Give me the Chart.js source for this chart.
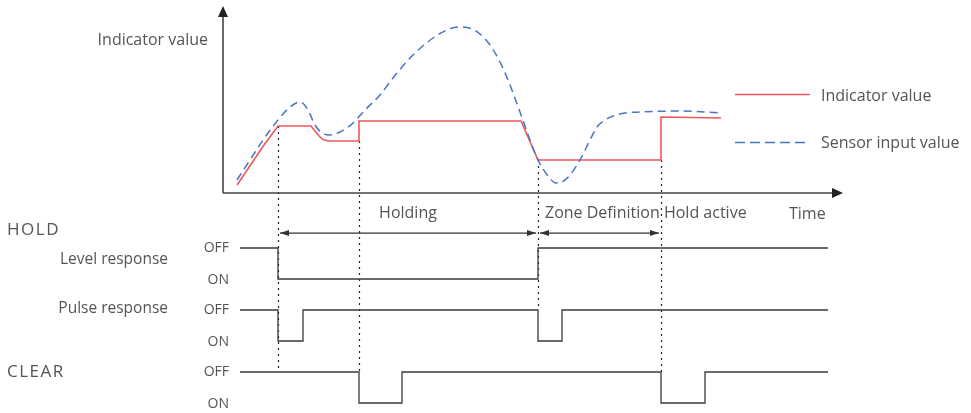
<!DOCTYPE html>
<html>
<head>
<meta charset="utf-8">
<script src="https://cdn.jsdelivr.net/npm/chart.js@4/dist/chart.umd.min.js"></script>
<style>
  html, body { margin: 0; padding: 0; background: #fff; }
  canvas { display: block; }
</style>
</head>
<body>
<canvas id="myChart" width="971" height="413"></canvas>
<script>
// Time axis (arbitrary units, 0 = origin of the value axis)
var indicatorTime = [14, 41, 55, 88, 92, 96, 100, 105, 136, 136, 298, 315, 438, 438, 498];
var indicatorValue = [8, 48, 67, 67, 62, 57, 53.5, 52, 52, 72, 72, 33, 33, 76, 75];

var sensorTime = [14, 27, 40, 55, 67, 77, 85, 92, 99, 107, 117, 129, 142, 157, 170, 190, 210, 224, 237, 249, 257, 267, 277, 287, 297, 307, 315, 325, 333, 339, 347, 357, 367, 374, 382, 390, 402, 417, 457, 498];
var sensorValue = [13, 33, 53, 73, 86, 91, 83, 68, 60, 58, 61, 69, 83, 98, 115, 138, 155, 163, 166, 164, 159, 148, 131, 108, 81, 53, 33, 17, 10, 11, 18, 33, 53, 66, 73, 77, 80, 81, 82, 80];

// Signal rows: time of each change and the state from that time on
var rowNames = ["Level response", "Pulse response", "CLEAR"];
var groupName = "HOLD";
var levelTimes = [17, 55, 315, 605];
var levelStates = ["OFF", "ON", "OFF", "OFF"];
var pulseTimes = [17, 55, 80, 315, 339, 605];
var pulseStates = ["OFF", "ON", "OFF", "ON", "OFF", "OFF"];
var clearTimes = [17, 136, 179, 438, 482, 605];
var clearStates = ["OFF", "ON", "OFF", "ON", "OFF", "OFF"];

// Event markers (dotted lines) and spans
var markerTimes = [55, 136, 315, 438];
var markerTopValues = [67, 52, 33, 33];
var markerBottomRows = [2, 2, 1, 2];
var spanStarts = [55, 315];
var spanEnds = [315, 438];
var spanLabels = ["Holding", "Zone Definition Hold active"];

var valueAxisTitle = "Indicator value";
var timeAxisTitle = "Time";
var seriesNames = ["Indicator value", "Sensor input value"];

var FONT = "'Open Sans', 'Noto Sans', sans-serif";
var TEXT = "#555";
var RED = "#f0575a";
var BLUE = "#4a74c4";

function toPoints(xs, ys) {
  return xs.map(function (x, i) { return { x: x, y: ys[i] }; });
}

function signalPoints(times, states, row) {
  return times.map(function (t, i) {
    return { x: t, y: row * 2 + (states[i] === "ON" ? 1 : 0) };
  });
}

function signalDataset(times, states, row) {
  return {
    data: signalPoints(times, states, row),
    yAxisID: "sig",
    borderColor: "#3a3a3a",
    borderWidth: 1.3,
    pointRadius: 0,
    stepped: true,
    fill: false,
  };
}

function arrowHead(ctx, x, y, dir) {
  ctx.beginPath();
  ctx.moveTo(x, y);
  ctx.lineTo(x - dir * 9, y - 3);
  ctx.lineTo(x - dir * 9, y + 3);
  ctx.closePath();
  ctx.fill();
}

var diagramPlugin = {
  id: "diagram",
  beforeDatasetsDraw: function (chart) {
    var ctx = chart.ctx;
    var xs = chart.scales.x, ys = chart.scales.y, ss = chart.scales.sig;
    ctx.save();

    // dotted event markers
    ctx.strokeStyle = "#222";
    ctx.lineWidth = 1.2;
    ctx.setLineDash([2, 4]);
    markerTimes.forEach(function (t, i) {
      var px = Math.round(xs.getPixelForValue(t)) + 0.5;
      ctx.beginPath();
      ctx.moveTo(px, ys.getPixelForValue(markerTopValues[i]));
      ctx.lineTo(px, ss.getPixelForValue(markerBottomRows[i] * 2));
      ctx.stroke();
    });
    ctx.setLineDash([]);

    // axes
    var x0 = xs.getPixelForValue(0), y0 = ys.getPixelForValue(0);
    var yTop = ys.getPixelForValue(187), xEnd = xs.getPixelForValue(620);
    ctx.strokeStyle = "#444";
    ctx.fillStyle = "#222";
    ctx.lineWidth = 1.6;
    ctx.beginPath();
    ctx.moveTo(x0, y0);
    ctx.lineTo(x0, yTop + 8);
    ctx.moveTo(x0, y0);
    ctx.lineTo(xEnd - 8, y0);
    ctx.stroke();
    ctx.beginPath();
    ctx.moveTo(x0, yTop);
    ctx.lineTo(x0 - 5, yTop + 11);
    ctx.lineTo(x0 + 5, yTop + 11);
    ctx.closePath();
    ctx.fill();
    ctx.beginPath();
    ctx.moveTo(xEnd, y0);
    ctx.lineTo(xEnd - 11, y0 - 5);
    ctx.lineTo(xEnd - 11, y0 + 5);
    ctx.closePath();
    ctx.fill();

    // span arrows
    var ay = ss.getPixelForValue(-0.48);
    ctx.strokeStyle = "#333";
    ctx.fillStyle = "#333";
    ctx.lineWidth = 1.1;
    spanStarts.forEach(function (t, i) {
      var a = xs.getPixelForValue(t) + 2, b = xs.getPixelForValue(spanEnds[i]) - 2;
      ctx.beginPath();
      ctx.moveTo(a, ay);
      ctx.lineTo(b, ay);
      ctx.stroke();
      arrowHead(ctx, a, ay, -1);
      arrowHead(ctx, b, ay, 1);
    });

    // texts
    ctx.fillStyle = TEXT;
    ctx.textBaseline = "middle";
    ctx.font = "16px " + FONT;
    ctx.textAlign = "right";
    ctx.fillText(valueAxisTitle, x0 - 15, 40);
    ctx.textAlign = "left";
    ctx.fillText(timeAxisTitle, xs.getPixelForValue(566), y0 + 21);

    var ty = ss.getPixelForValue(-1.1);
    ctx.textAlign = "center";
    ctx.fillText(spanLabels[0], (xs.getPixelForValue(spanStarts[0]) + xs.getPixelForValue(spanEnds[0])) / 2, ty);
    ctx.textAlign = "left";
    ctx.fillText(spanLabels[1], xs.getPixelForValue(spanStarts[1]) + 7, ty);

    // row labels
    ctx.font = "17px " + FONT;
    ctx.letterSpacing = "1.5px";
    ctx.fillText(groupName, 7, ss.getPixelForValue(-0.58));
    ctx.fillText(rowNames[2], 7, ss.getPixelForValue(4));
    ctx.letterSpacing = "0px";
    ctx.font = "15.5px " + FONT;
    ctx.textAlign = "right";
    ctx.fillText(rowNames[0], 168, ss.getPixelForValue(0.38));
    ctx.fillText(rowNames[1], 168, ss.getPixelForValue(1.97));
    ctx.font = "14px " + FONT;
    for (var r = 0; r < 3; r++) {
      ctx.fillText("OFF", x0 + 6, ss.getPixelForValue(r * 2));
      ctx.fillText("ON", x0 + 6, ss.getPixelForValue(r * 2 + 1) + 1);
    }

    // legend
    ctx.font = "16px " + FONT;
    ctx.textAlign = "left";
    ctx.lineWidth = 1.5;
    ctx.strokeStyle = RED;
    ctx.beginPath();
    ctx.moveTo(735, 94.5);
    ctx.lineTo(810, 94.5);
    ctx.stroke();
    ctx.strokeStyle = BLUE;
    ctx.setLineDash([10, 5]);
    ctx.beginPath();
    ctx.moveTo(735, 142.5);
    ctx.lineTo(810, 142.5);
    ctx.stroke();
    ctx.setLineDash([]);
    ctx.fillText(seriesNames[0], 821, 96);
    ctx.fillText(seriesNames[1], 821, 143);

    ctx.restore();
  },
};

window.onload = function () {
  var ctx = document.getElementById("myChart").getContext("2d");
  var myChart = new Chart(ctx, {
    type: "line",
    data: {
      datasets: [
        {
          label: seriesNames[1],
          data: toPoints(sensorTime, sensorValue),
          borderColor: BLUE,
          borderWidth: 1.5,
          borderDash: [8, 5],
          pointRadius: 0,
          tension: 0.4,
          cubicInterpolationMode: "monotone",
          fill: false,
        },
        {
          label: seriesNames[0],
          data: toPoints(indicatorTime, indicatorValue),
          borderColor: RED,
          borderWidth: 1.6,
          pointRadius: 0,
          tension: 0,
          fill: false,
        },
        signalDataset(levelTimes, levelStates, 0),
        signalDataset(pulseTimes, pulseStates, 1),
        signalDataset(clearTimes, clearStates, 2),
      ],
    },
    options: {
      responsive: false,
      animation: false,
      devicePixelRatio: 1,
      layout: { padding: 0 },
      plugins: { legend: { display: false }, tooltip: { enabled: false } },
      scales: {
        x: { type: "linear", display: false, min: -223, max: 748 },
        y: { type: "linear", display: false, min: -220, max: 193 },
        sig: { type: "linear", display: false, reverse: true, min: -8, max: -8 + 413 / 31 },
      },
    },
    plugins: [diagramPlugin],
  });
};
</script>
</body>
</html>
